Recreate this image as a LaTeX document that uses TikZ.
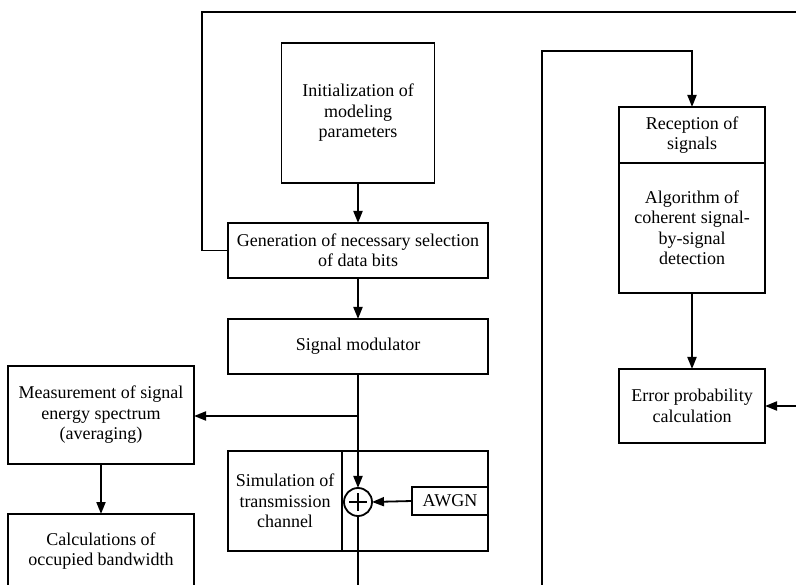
\documentclass[tikz,border=0pt]{standalone}
\usepackage{fontspec}
\setmainfont{Liberation Serif}
\usetikzlibrary{arrows.meta}
\begin{document}
\begin{tikzpicture}[x=1pt,y=-1pt,
  line width=1.8pt,
  every node/.style={font=\fontsize{18}{20.5}\selectfont, align=center, inner sep=0pt, outer sep=0pt},
  block/.style={draw, rectangle},
  arr/.style={-{Triangle[length=12pt,width=9pt]}},
  sumnode/.style={draw, circle, minimum size=28pt}]
\useasboundingbox (0,0) rectangle (796,585);
\clip (0,0) rectangle (796,585);

% transmitter chain
\node[block, minimum width=153pt, minimum height=140pt] (init) at (358,113) {Initialization of\\modeling\\parameters};
\node[block, minimum width=260pt, minimum height=55pt] (gen) at (358,250.5) {Generation of necessary selection\\of data bits};
\node[block, minimum width=260pt, minimum height=55pt] (mod) at (358,346.5) {Signal modulator};

% spectrum measurement branch
\node[block, minimum width=186pt, minimum height=98pt] (meas) at (101,415) {Measurement of signal\\energy spectrum\\(averaging)};
\node[block, minimum width=186pt, minimum height=74pt] (calc) at (101,551) {Calculations of\\occupied bandwidth};

% transmission channel
\node[block, minimum width=260pt, minimum height=100pt] (chan) at (358,501) {};
\node[block, minimum width=114pt, minimum height=100pt] (sim) at (285,501) {Simulation of\\transmission\\channel};
\node[sumnode] (sum) at (358,502) {};
\draw ([xshift=-9pt]sum.center) -- ([xshift=9pt]sum.center)
      ([yshift=-9pt]sum.center) -- ([yshift=9pt]sum.center);
\node[block, minimum width=76pt, minimum height=28pt] (awgn) at (450,501) {AWGN};

% receiver chain
\node[block, minimum width=146pt, minimum height=56pt] (rec) at (692,135) {Reception of\\signals};
\node[block, minimum width=146pt, minimum height=130pt] (alg) at (692,228) {Algorithm of\\coherent signal-\\by-signal\\detection};
\node[block, minimum width=146pt, minimum height=74pt] (err) at (692,406) {Error probability\\calculation};

% free ends of the connectors
\coordinate (topR) at (796,12);
\coordinate (loopL) at (202,250.5);
\coordinate (rbot) at (542,585);
\coordinate (rtop) at (692,51);
\coordinate (errR) at (796,406);
\coordinate (branch) at (358,416);
\coordinate (sumbot) at (358,585);

% connectors
\draw[arr] (init.south) -- (gen.north);
\draw (gen.west) -- (loopL) |- (topR);
\draw[arr] (gen.south) -- (mod.north);
\draw[arr] (mod.south) -- (sum.north);
\draw[arr] (branch) -- (branch -| meas.east);
\draw[arr] (meas.south) -- (calc.north);
\draw[arr] (awgn.west) -- (sum.east);
\draw (sum.south) -- (sumbot);
\draw[arr] (rbot) |- (rtop) -- (rec.north);
\draw[arr] (alg.south) -- (err.north);
\draw[arr] (errR) -- (err.east);
\end{tikzpicture}
\end{document}
